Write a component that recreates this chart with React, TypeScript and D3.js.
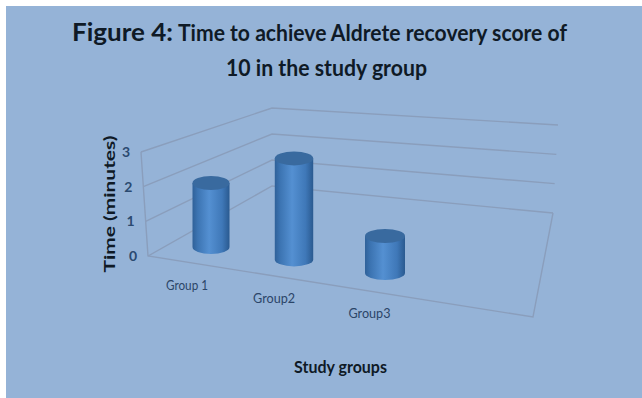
import React from "react";
import * as d3 from "d3";

const categories = ["Group 1", "Group2", "Group3"];
const times = [1.9, 3, 1.1];
const yTicks = [0, 1, 2, 3];
const titleLead = "Figure 4:";
const titleRest = "Time to achieve Aldrete recovery score of";
const titleSecond = "10 in the study group";
const yTitle = "Time (minutes)";
const xTitle = "Study groups";

const W = 642;
const H = 398;
const FONT = "Lato, 'Open Sans', sans-serif";
const INK = "#0f1a26";
const GRID = "#8a9ebc";

// Oblique projection of the plot box: each wall edge has its own value scale.
const frontY = d3.scaleLinear().domain([0, 3]).range([256, 152]);
const frontX = d3.scaleLinear().domain([0, 3]).range([148, 141]);
const backY = d3.scaleLinear().domain([0, 3]).range([186, 108]);
const rightY = d3.scaleLinear().domain([0, 3]).range([213, 125]);
const rightX = d3.scaleLinear().domain([0, 3]).range([553, 558]);
const backX = 272;

// Category placement along the floor, with perspective growth towards the viewer.
const catX = d3.scalePoint<string>().domain(categories).range([211, 385]);
const catGap = d3.scaleLinear().domain([211, 298, 385]).range([211, 294, 385]);
const baseY = d3.scaleLinear().domain([211, 385]).range([247, 273]);
const halfW = d3.scaleLinear().domain([211, 385]).range([18.5, 20]);
const barH = d3.scaleLinear().domain([0, 3]).range([0, 101]);
const labelDx = d3.scaleLinear().domain([211, 385]).range([-24, -15.5]);
const labelDy = d3.scaleLinear().domain([211, 385]).range([43, 45]);

const gridPath = d3.line<[number, number]>();

export default function App() {
  return (
    <svg
      width={W}
      height={H}
      viewBox={`0 0 ${W} ${H}`}
      style={{ position: "fixed", left: 0, top: 0, background: "#fff", display: "block" }}
      fontFamily={FONT}
    >
      <defs>
        <linearGradient id="body" x1="0" x2="1" y1="0" y2="0">
          <stop offset="0" stopColor="#2f6199" />
          <stop offset="0.14" stopColor="#3c74b2" />
          <stop offset="0.45" stopColor="#5490d2" />
          <stop offset="0.8" stopColor="#3f78b8" />
          <stop offset="1" stopColor="#2a5a90" />
        </linearGradient>
      </defs>
      <rect x={6} y={6} width={W - 6} height={H - 6} fill="#95b3d7" />

      <text x={72} y={41} fontSize={24} fontWeight={700} fill={INK} textLength={101} lengthAdjust="spacingAndGlyphs">
        {titleLead}
      </text>
      <text x={178} y={41} fontSize={23} fontWeight={700} fill={INK} textLength={389} lengthAdjust="spacingAndGlyphs">
        {titleRest}
      </text>
      <text x={226} y={76} fontSize={23} fontWeight={700} fill={INK} textLength={201} lengthAdjust="spacingAndGlyphs">
        {titleSecond}
      </text>

      {yTicks.map((t) => (
        <path
          key={t}
          fill="none"
          stroke={GRID}
          strokeWidth={1.4}
          d={
            gridPath([
              [frontX(t), frontY(t)],
              [backX, backY(t)],
              [rightX(t), rightY(t)],
            ]) ?? ""
          }
        />
      ))}
      <path
        fill="none"
        stroke={GRID}
        strokeWidth={1.4}
        d={gridPath([[frontX(3), frontY(3)], [frontX(0), frontY(0)], [533, 317], [rightX(0), rightY(0)]]) ?? ""}
      />

      {yTicks.map((t) => (
        <text
          key={t}
          x={frontX(t) - 11}
          y={frontY(t) + 5}
          textAnchor="end"
          fontSize={14}
          fontWeight={700}
          fill="#2b4a70"
        >
          {t}
        </text>
      ))}

      {categories.map((c, i) => {
        const cx = catGap(catX(c) as number);
        const by = baseY(cx);
        const hw = halfW(cx);
        const ty = by - barH(times[i]);
        const ry = 7;
        const body = `M${cx - hw},${ty}L${cx - hw},${by}A${hw},${ry} 0 0 0 ${cx + hw},${by}L${cx + hw},${ty}Z`;
        return (
          <g key={c}>
            <path d={body} fill="url(#body)" />
            <ellipse cx={cx} cy={ty} rx={hw} ry={ry} fill="#396a9f" />
          </g>
        );
      })}

      {categories.map((c) => {
        const cx = catGap(catX(c) as number);
        return (
          <text
            key={c}
            x={cx + labelDx(cx) - 21}
            y={baseY(cx) + labelDy(cx)}
            fontSize={13}
            fill="#2b4568"
            textLength={42}
            lengthAdjust="spacingAndGlyphs"
          >
            {c}
          </text>
        );
      })}

      <text
        transform="translate(115,204) rotate(-90)"
        textAnchor="middle"
        fontSize={16}
        fontWeight={700}
        fill={INK}
        textLength={137}
        lengthAdjust="spacingAndGlyphs"
      >
        {yTitle}
      </text>
      <text x={294} y={373} fontSize={17.5} fontWeight={700} fill={INK} textLength={93} lengthAdjust="spacingAndGlyphs">
        {xTitle}
      </text>
    </svg>
  );
}
